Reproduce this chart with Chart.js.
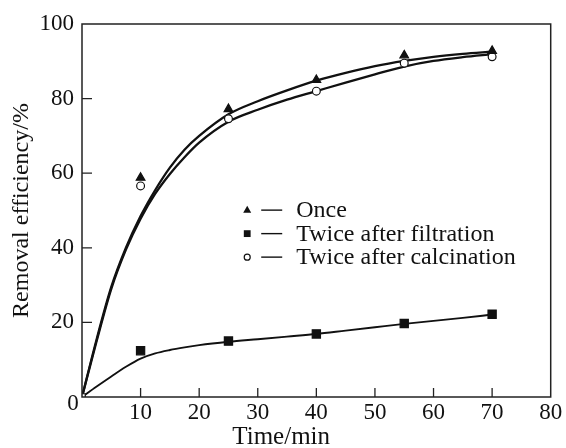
<!DOCTYPE html>
<html><head><meta charset="utf-8">
<script src="https://cdn.jsdelivr.net/npm/chart.js@4/dist/chart.umd.min.js"></script>
<style>html,body{margin:0;padding:0;background:#fff}#wrap{width:566px;height:448px;position:relative}</style>
</head><body><div id="wrap"><canvas id="c"></canvas></div>
<script>
// ---- data ----
const sampleTimes = [10, 25, 40, 55, 70];
const onceValues = [58.8, 77.2, 85.0, 91.6, 92.8];
const filtrationValues = [12.4, 15.0, 16.9, 19.7, 22.2];
const calcinationValues = [56.6, 74.6, 82.0, 89.5, 91.2];
const originTime = [0];
const originValue = [0];

const fitTimes = [0, 2.5, 5, 7.5, 10, 12.5, 15, 17.5, 20, 25, 30, 35, 40, 45, 50, 55, 60, 65, 70];
const onceFit = [0, 15.5, 29.5, 40, 48.5, 55.5, 61.5, 66.3, 70, 75.8, 79.3, 82.2, 84.8, 86.9, 88.7, 90.1, 91.2, 92.0, 92.6];
const calcinationFit = [0, 15, 29, 39.5, 47.8, 54.5, 59.8, 64.3, 68.2, 73.8, 77.0, 79.7, 82.0, 84.3, 86.5, 88.6, 90.1, 91.1, 91.9];
const filtrationFit = [0, 2.8, 5.5, 8.1, 10.3, 11.7, 12.6, 13.3, 13.9, 14.8, 15.5, 16.2, 16.9, 17.8, 18.7, 19.6, 20.4, 21.2, 22.1];

const xTicks = [0, 10, 20, 30, 40, 50, 60, 70, 80];
const yTicks = [0, 20, 40, 60, 80, 100];
const originLabel = '0';
const seriesNames = ['Once', 'Twice after filtration', 'Twice after calcination'];
const xTitle = 'Time/min';
const yTitle = 'Removal efficiency/%';

const pts = (xs, ys) => xs.map((x, i) => ({x: x, y: ys[i]}));
const FONT = "'Liberation Serif','Times New Roman',serif";
const INK = '#111';

const markerStyles = [
  {pointStyle: 'triangle', radius: 5.0, fill: INK},
  {pointStyle: 'rect', radius: 5.8, fill: INK},
  {pointStyle: 'circle', radius: 3.9, fill: '#fff'}
];

function markerDs(label, data, m) {
  return {type: 'scatter', label: label, data: data, showLine: false, order: 0,
    pointStyle: m.pointStyle, pointRadius: m.radius, pointHoverRadius: m.radius,
    pointBackgroundColor: m.fill, pointBorderColor: INK, pointBorderWidth: 1.2};
}
function curveDs(label, data, w) {
  return {type: 'line', label: label, data: data, order: 1, showLine: true,
    borderColor: INK, borderWidth: w, pointRadius: 0, fill: false,
    cubicInterpolationMode: 'monotone'};
}

const frameAndLegend = {
  id: 'frameAndLegend',
  afterDatasetsDraw(chart) {
    const ctx = chart.ctx, a = chart.chartArea;
    const xs = chart.scales.x, ys = chart.scales.y;
    ctx.save();
    ctx.strokeStyle = '#222';
    ctx.lineWidth = 1.5;
    ctx.strokeRect(a.left, a.top, a.right - a.left, a.bottom - a.top);
    ctx.lineWidth = 1.3;
    ctx.beginPath();
    xTicks.forEach(v => {
      if (v <= xs.min || v >= xs.max) return;
      const px = xs.getPixelForValue(v);
      ctx.moveTo(px, a.bottom); ctx.lineTo(px, a.bottom - 9);
    });
    yTicks.forEach(v => {
      if (v <= ys.min || v >= ys.max) return;
      const py = ys.getPixelForValue(v);
      ctx.moveTo(a.left, py); ctx.lineTo(a.left + 10, py);
    });
    ctx.stroke();

    // shared origin label
    ctx.fillStyle = INK;
    ctx.font = '23px ' + FONT;
    ctx.textAlign = 'center';
    ctx.textBaseline = 'middle';
    ctx.fillText(originLabel, a.left - 9, a.bottom + 7);

    // x-axis title (placed as in the original, left of centre)
    ctx.font = '25px ' + FONT;
    ctx.fillText(xTitle, xs.getPixelForValue(34), a.bottom + 40);

    // legend inside plot
    const lx = xs.getPixelForValue(28.2);
    const ly0 = ys.getPixelForValue(50.1);
    const rowH = 23.5;
    ctx.font = '24px ' + FONT;
    ctx.textBaseline = 'middle';
    ctx.textAlign = 'left';
    seriesNames.forEach((name, i) => {
      const y = ly0 + i * rowH;
      ctx.fillStyle = INK; ctx.strokeStyle = INK; ctx.lineWidth = 1.2;
      ctx.beginPath();
      if (i === 0) {
        ctx.moveTo(lx, y - 4.5); ctx.lineTo(lx + 4, y + 2.5); ctx.lineTo(lx - 4, y + 2.5); ctx.closePath(); ctx.fill();
      } else if (i === 1) {
        ctx.fillRect(lx - 3.4, y - 3.4, 6.8, 6.8);
      } else {
        ctx.arc(lx, y, 3, 0, Math.PI * 2); ctx.fillStyle = '#fff'; ctx.fill(); ctx.stroke();
      }
      ctx.beginPath(); ctx.lineWidth = 1.4;
      ctx.moveTo(lx + 14, y); ctx.lineTo(lx + 35, y); ctx.stroke();
      ctx.fillStyle = INK;
      ctx.fillText(name, lx + 49, y + 1);
    });
    ctx.restore();
  }
};

new Chart(document.getElementById('c'), {
  data: {
    datasets: [
      markerDs(seriesNames[0], pts(sampleTimes, onceValues), markerStyles[0]),
      markerDs(seriesNames[1], pts(sampleTimes, filtrationValues), markerStyles[1]),
      markerDs(seriesNames[2], pts(sampleTimes, calcinationValues), markerStyles[2]),
      {type: 'scatter', label: 'origin', data: pts(originTime, originValue), order: 0,
        pointStyle: 'rect', pointRadius: 4.6, pointBackgroundColor: '#fff', pointBorderColor: INK, pointBorderWidth: 1.2},
      curveDs(seriesNames[0], pts(fitTimes, onceFit), 2.3),
      curveDs(seriesNames[1], pts(fitTimes, filtrationFit), 1.9),
      curveDs(seriesNames[2], pts(fitTimes, calcinationFit), 2.3)
    ]
  },
  options: {
    responsive: true, maintainAspectRatio: false, animation: false,
    devicePixelRatio: 1,
    layout: {padding: {top: 24, right: 15.3, left: 0, bottom: 0}},
    plugins: {legend: {display: false}, tooltip: {enabled: false}},
    scales: {
      x: {type: 'linear', min: 0, max: 80,
        afterBuildTicks: s => { s.ticks = xTicks.map(v => ({value: v})); },
        afterFit: s => { s.height = 51; },
        grid: {display: true, drawOnChartArea: false, drawTicks: false, color: 'rgba(0,0,0,0)'},
        border: {display: false},
        ticks: {color: INK, font: {family: FONT, size: 23}, padding: 2, maxRotation: 0,
          callback: v => v === 0 ? '' : String(v)},
        title: {display: false}
      },
      y: {type: 'linear', min: 0, max: 100,
        afterBuildTicks: s => { s.ticks = yTicks.map(v => ({value: v})); },
        afterFit: s => { s.width = 82; },
        grid: {display: true, drawOnChartArea: false, drawTicks: false, color: 'rgba(0,0,0,0)'},
        border: {display: false},
        ticks: {color: INK, font: {family: FONT, size: 23}, padding: 8, callback: v => v === 0 ? '' : String(v)},
        title: {display: true, text: yTitle, color: INK, font: {family: FONT, size: 24}, padding: {top: 7, bottom: 0}}
      }
    }
  },
  plugins: [frameAndLegend]
});
</script></body></html>
